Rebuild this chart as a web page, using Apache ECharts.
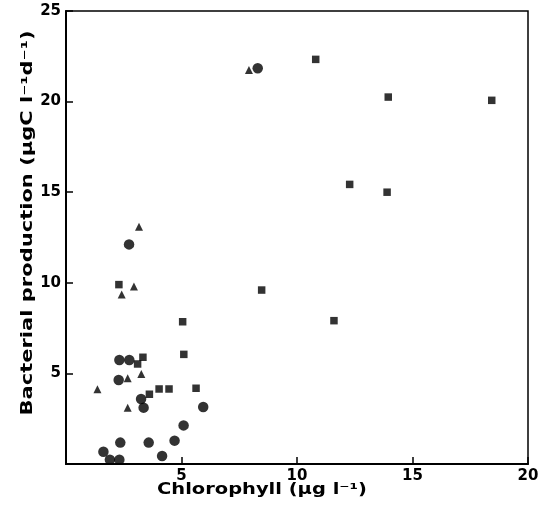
<!DOCTYPE html>
<html>
<head>
<meta charset="utf-8">
<script src="https://cdn.jsdelivr.net/npm/echarts@6/dist/echarts.min.js"></script>
<style>html,body{margin:0;padding:0;background:#fff}#c{width:549px;height:510px}</style>
</head>
<body>
<div id="c"></div>
<script>
// Chlorophyll (x) vs bacterial production (y)
const circleX = [8.3, 2.73, 2.31, 2.74, 2.28, 3.25, 3.36, 5.94, 5.09, 2.35, 3.58, 4.7, 1.62, 4.16, 1.9, 2.31];
const circleY = [21.84, 12.12, 5.74, 5.74, 4.64, 3.59, 3.11, 3.15, 2.13, 1.18, 1.18, 1.29, 0.68, 0.44, 0.24, 0.24];
const squareX = [5.05, 5.1, 3.33, 3.1, 4.03, 4.46, 5.63, 3.61, 2.29, 10.81, 13.95, 18.43, 12.28, 13.9, 8.47, 11.6];
const squareY = [7.85, 6.05, 5.89, 5.52, 4.14, 4.14, 4.18, 3.85, 9.9, 22.33, 20.25, 20.07, 15.43, 15.0, 9.6, 7.91];
const triangleX = [7.92, 3.16, 2.94, 2.41, 3.26, 2.67, 1.36, 2.67];
const triangleY = [21.74, 13.1, 9.79, 9.36, 4.97, 4.73, 4.12, 3.11];
const xTicks = [5, 10, 15, 20];
const yTicks = [5, 10, 15, 20, 25];
const xName = 'Chlorophyll (µg l⁻¹)';
const yName = 'Bacterial production (µgC l⁻¹d⁻¹)';

const pairs = (xs, ys) => xs.map((x, i) => [x, ys[i]]);
const fam = 'DejaVu Sans';
const nameFont = 'bold 16px "DejaVu Sans"';
const ctx = document.createElement('canvas').getContext('2d');
ctx.font = nameFont;
const xScale = 210 / ctx.measureText(xName).width;
const yScale = 385 / ctx.measureText(yName).width;

const chart = echarts.init(document.getElementById('c'));
chart.setOption({
  animation: false,
  backgroundColor: '#fff',
  grid: { left: 66, right: 21, top: 11, bottom: 46, show: true, borderColor: '#000', borderWidth: 1.5, backgroundColor: 'transparent' },
  xAxis: {
    type: 'value', min: 0, max: 20, interval: 5,
    axisLine: { show: true, lineStyle: { color: '#000', width: 2 } },
    axisTick: { show: true, inside: true, length: 7, lineStyle: { color: '#000', width: 1.5 } },
    splitLine: { show: false },
    axisLabel: { margin: 5, fontFamily: fam, fontSize: 15, fontWeight: 'bold', color: '#000',
      formatter: v => xTicks.includes(v) ? String(v) : '' }
  },
  yAxis: {
    type: 'value', min: 0, max: 25, interval: 5,
    axisLine: { show: true, lineStyle: { color: '#000', width: 2 } },
    axisTick: { show: true, inside: true, length: 7, lineStyle: { color: '#000', width: 1.5 } },
    splitLine: { show: false },
    axisLabel: { margin: 5, fontFamily: fam, fontSize: 15, fontWeight: 'bold', color: '#000',
      formatter: v => yTicks.includes(v) ? String(v) : '' }
  },
  graphic: [
    { type: 'text', x: 262, y: 490, scaleX: xScale,
      style: { text: xName, font: nameFont, fill: '#000', align: 'center', verticalAlign: 'middle' } },
    { type: 'text', x: 28, y: 223, rotation: Math.PI / 2, scaleX: yScale,
      style: { text: yName, font: nameFont, fill: '#000', align: 'center', verticalAlign: 'middle' } }
  ],
  series: [
    { name: 'Circles', type: 'scatter', symbol: 'circle', symbolSize: 10.5, itemStyle: { color: '#000' }, data: pairs(circleX, circleY) },
    { name: 'Squares', type: 'scatter', symbol: 'rect', symbolSize: 7.5, itemStyle: { color: '#000' }, data: pairs(squareX, squareY) },
    { name: 'Triangles', type: 'scatter', symbol: 'triangle', symbolSize: 8, itemStyle: { color: '#000' }, data: pairs(triangleX, triangleY) }
  ]
});
</script>
</body>
</html>
